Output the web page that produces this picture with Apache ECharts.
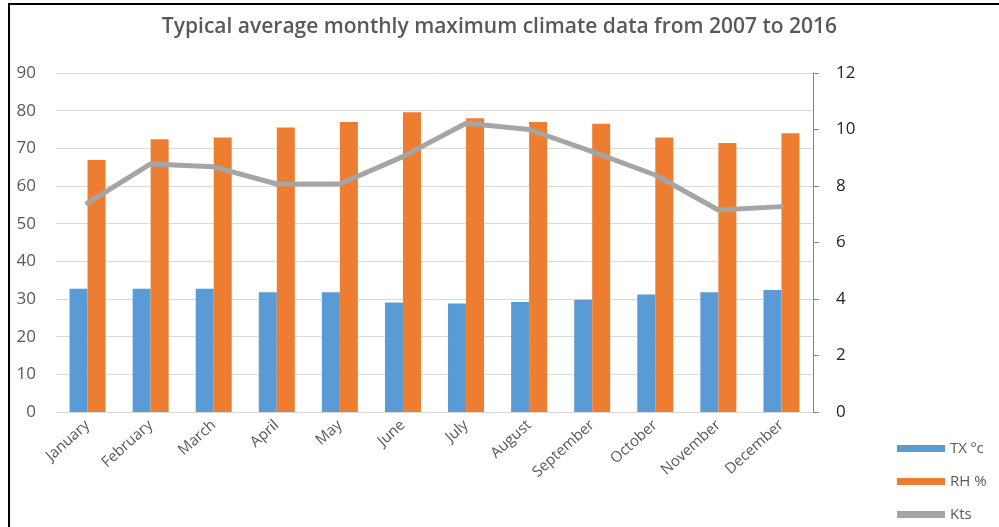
<!DOCTYPE html>
<html>
<head>
<meta charset="utf-8">
<script src="https://cdn.jsdelivr.net/npm/echarts@6/dist/echarts.min.js"></script>
<style>
  html, body { margin: 0; padding: 0; background: #ffffff; }
  #chart { width: 999px; height: 527px; }
</style>
</head>
<body>
<div id="chart"></div>
<script>
// Monthly climate summary, 2007-2016
const months = ['January', 'February', 'March', 'April', 'May', 'June',
  'July', 'August', 'September', 'October', 'November', 'December'];
const txValues = [32.7, 32.7, 32.7, 31.8, 31.8, 29.1, 28.8, 29.2, 29.8, 31.2, 31.8, 32.4];
const rhValues = [66.9, 72.4, 72.9, 75.5, 77.0, 79.6, 78.0, 77.0, 76.5, 72.9, 71.4, 74.0];
const ktsValues = [7.39, 8.78, 8.68, 8.07, 8.07, 9.04, 10.22, 10.0, 9.22, 8.39, 7.15, 7.27];
const seriesNames = ['TX ºc', 'RH %', 'Kts'];
const chartTitle = 'Typical average monthly maximum climate data from 2007 to 2016';

const FONT = '"Open Sans", "Noto Sans", sans-serif';

const chart = echarts.init(document.getElementById('chart'), null, { renderer: 'canvas' });

chart.setOption({
  backgroundColor: '#ffffff',
  animation: false,
  title: {
    text: chartTitle,
    left: 'center',
    top: 12,
    textStyle: { fontFamily: FONT, fontSize: 21, fontWeight: 600, color: '#595959' }
  },
  legend: {
    orient: 'vertical',
    left: 897,
    top: 441,
    padding: 0,
    itemWidth: 48,
    itemHeight: 7,
    itemGap: 18,
    icon: 'rect',
    data: seriesNames,
    textStyle: { fontFamily: FONT, fontSize: 15, color: '#595959' }
  },
  grid: { left: 56, right: 186, top: 73, bottom: 115 },
  xAxis: {
    type: 'category',
    data: months,
    axisLine: { lineStyle: { color: '#D9D9D9', width: 1 } },
    axisTick: { show: false },
    axisLabel: {
      rotate: 42,
      margin: 11,
      fontFamily: FONT,
      fontSize: 15,
      color: '#595959',
      interval: 0
    }
  },
  yAxis: [
    {
      type: 'value',
      min: 0,
      max: 90,
      interval: 10,
      axisLine: { show: false },
      axisTick: { show: false },
      splitLine: { lineStyle: { color: '#D9D9D9', width: 1 } },
      axisLabel: { fontFamily: FONT, fontSize: 17, color: '#595959', margin: 20 }
    },
    {
      type: 'value',
      min: 0,
      max: 12,
      interval: 2,
      position: 'right',
      axisLine: { show: true, lineStyle: { color: '#868686', width: 1 } },
      axisTick: { show: true, inside: false, length: 6, lineStyle: { color: '#868686' } },
      splitLine: { show: false },
      axisLabel: { fontFamily: FONT, fontSize: 17, color: '#262626', margin: 23 }
    }
  ],
  series: [
    {
      name: seriesNames[0],
      type: 'bar',
      data: txValues,
      barWidth: 18,
      barGap: '0%',
      itemStyle: { color: '#5B9BD5' }
    },
    {
      name: seriesNames[1],
      type: 'bar',
      data: rhValues,
      barWidth: 18,
      barGap: '0%',
      itemStyle: { color: '#ED7D31' }
    },
    {
      name: seriesNames[2],
      type: 'line',
      yAxisIndex: 1,
      data: ktsValues,
      symbol: 'none',
      lineStyle: { color: '#A5A5A5', width: 5, cap: 'round', join: 'round' },
      itemStyle: { color: '#A5A5A5' }
    }
  ],
  graphic: [
    {
      type: 'polyline',
      silent: true,
      shape: { points: [[9, 527], [9, 4], [999, 4]] },
      style: { stroke: '#000000', lineWidth: 2, fill: null }
    }
  ]
});
</script>
</body>
</html>
